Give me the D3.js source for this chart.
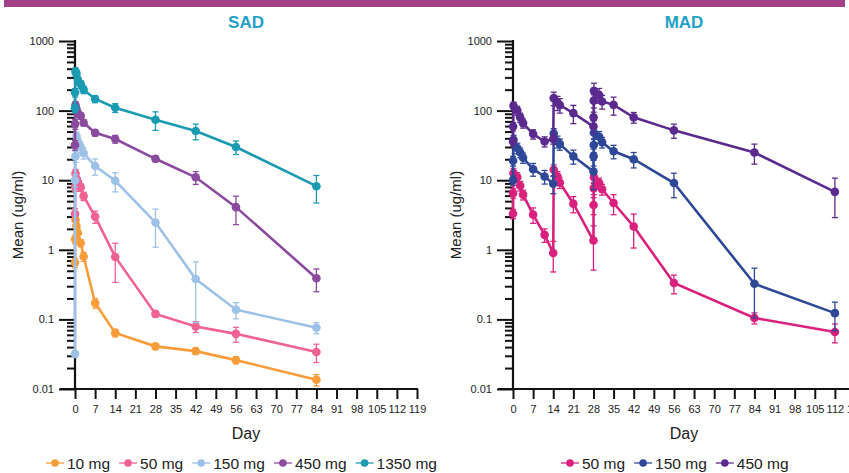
<!DOCTYPE html>
<html>
<head>
<meta charset="utf-8">
<script src="https://cdn.jsdelivr.net/npm/d3@7"></script>
<style>
  body { margin: 0; background: #fff; }
  text { font-family: "Liberation Sans", Arial, sans-serif; fill: #222; }
</style>
</head>
<body>
<div id="chart"></div>
<script>
// ---- data ----
const yTicks = [0.01, 0.1, 1, 10, 100, 1000];
const xTicks = [0, 7, 14, 21, 28, 35, 42, 49, 56, 63, 70, 77, 84, 91, 98, 105, 112, 119];

const sadDays = [0, 0.04, 0.17, 0.5, 1, 2, 3, 7, 14, 28, 42, 56, 84];
const sadNames = ['10 mg', '50 mg', '150 mg', '450 mg', '1350 mg'];
const sad10   = [0.65, 1.42, 2.7, 2.2, 1.74, 1.25, 0.8, 0.172, 0.064, 0.041, 0.035, 0.026, 0.0136];
const sad10sd = [0.1, 0.2, 0.4, 0.3, 0.25, 0.15, 0.12, 0.027, 0.008, 0.004, 0.0035, 0.003, 0.0025];
const sad50   = [3.3, 8.1, 12.5, 10.5, 9.5, 7.9, 5.9, 3.0, 0.79, 0.12, 0.079, 0.062, 0.034];
const sad50sd = [0.6, 1.2, 1.8, 1.5, 1.3, 1.0, 0.8, 0.6, 0.45, 0.012, 0.014, 0.015, 0.01];
const sad150   = [0.032, 10, 22, 43, 36, 30, 24.5, 16, 9.8, 2.47, 0.38, 0.138, 0.076];
const sad150sd = [0.003, 2, 4, 6, 5, 5, 4.4, 4.2, 3, 1.38, 0.29, 0.036, 0.014];
const sad450   = [32, 64, 120, 105, 92, 84, 67, 48, 39, 20.3, 11, 4.1, 0.39];
const sad450sd = [5, 10, 15, 12, 10, 8, 7, 5, 5, 2, 2.3, 1.8, 0.14];
const sad1350   = [108, 182, 363, 344, 277, 239, 200, 147, 110, 74, 51, 30, 8.2];
const sad1350sd = [15, 25, 50, 40, 35, 30, 25, 17, 16, 22, 13, 6.6, 3.5];

const madDays = [0, 0.04, 0.17, 1.5, 2.5, 3.5, 7, 11, 14, 14.17, 15.5, 16.3, 21,
                 28, 28.04, 28.1, 28.17, 30, 31, 35, 42, 56, 84, 112];
const madNames = ['50 mg', '150 mg', '450 mg'];
const mad50   = [3.3, 6.5, 12.6, 11, 8.3, 6.2, 3.2, 1.64, 0.9, 14.1, 11.3, 9.2, 4.6,
                 1.36, 4.4, 7.7, 11, 9.1, 7.4, 4.7, 2.16, 0.333, 0.105, 0.066];
const mad50sd = [0.5, 1, 2, 1.8, 1.3, 1, 0.8, 0.36, 0.42, 2.5, 2, 1.6, 1.2,
                 0.85, 1.2, 1.5, 2, 1.6, 1.3, 1.5, 1.1, 0.1, 0.019, 0.02];
const mad150   = [10, 19, 38, 29, 25, 21, 14.4, 11.3, 8.9, 47, 36, 33, 22,
                  13.3, 22, 32, 48, 42, 35, 26, 20, 9.1, 0.325, 0.123];
const mad150sd = [1.5, 3, 6, 5, 4, 3.5, 3, 2.5, 2.5, 8, 7, 6, 5,
                  6, 6, 7, 9, 8, 6, 5.7, 5, 3.5, 0.22, 0.054];
const mad450   = [36, 59, 117, 100, 80, 66, 46, 36, 39, 151, 130, 120, 92,
                  59, 80, 139, 192, 168, 135, 121, 80, 52, 25, 6.8];
const mad450sd = [5, 8, 15, 15, 12, 10, 7, 6, 6, 33, 30, 28, 27,
                  12, 15, 30, 55, 40, 30, 35, 14, 12, 8, 3.9];

const sadColors = ['#f89c3a', '#ef6291', '#9dc1e7', '#8a4a9e', '#1b9bb1'];
const madColors = ['#d9207d', '#2f4798', '#5b2a8e'];

// ---- layout ----
const W = 849, H = 473;
const svg = d3.select('#chart').append('svg')
    .attr('width', W)
    .attr('height', H);

svg.append('rect')
   .attr('x', 4).attr('y', 0)
   .attr('width', 841).attr('height', 7)
   .attr('fill', '#a54187');

const y = d3.scaleLog().domain([0.01, 1000]).range([389, 41]);

function drawPanel(opt) {
    const x = d3.scaleLinear().domain([0, 119]).range([opt.x0, opt.x0 + 342]);
    const g = svg.append('g');

    g.append('text')
     .attr('x', opt.titleX).attr('y', 28)
     .attr('text-anchor', 'middle')
     .style('font-size', '17px').style('font-weight', 'bold')
     .style('fill', '#1fa0c7')
     .text(opt.title);

    // minor y ticks
    const minors = [];
    yTicks.slice(0, -1).forEach(d => { for (let k = 2; k <= 9; k++) minors.push(d * k); });
    g.append('g')
     .attr('transform', `translate(${opt.x0},0)`)
     .call(d3.axisLeft(y).tickValues(minors).tickSize(8).tickFormat(''))
     .call(a => a.select('.domain').remove())
     .selectAll('line').attr('stroke', '#111').attr('stroke-width', 2);

    const ya = g.append('g')
     .attr('transform', `translate(${opt.x0},0)`)
     .call(d3.axisLeft(y).tickValues(yTicks).tickSize(16).tickPadding(5).tickFormat(d => String(d)));
    ya.select('.domain').remove();
    ya.selectAll('line').attr('stroke', '#111').attr('stroke-width', 2);
    ya.selectAll('text').style('font-size', '11px').style('font-family', '"Liberation Sans", Arial, sans-serif');

    g.append('line')
     .attr('x1', opt.x0).attr('x2', opt.x0)
     .attr('y1', y(1000) - 1).attr('y2', y(0.01) + 1)
     .attr('stroke', '#111').attr('stroke-width', 2.2);

    const xa = g.append('g')
     .attr('transform', `translate(0,${y(0.01)})`)
     .call(d3.axisBottom(x).tickValues(xTicks).tickSize(10).tickPadding(6));
    xa.select('.domain').remove();
    xa.selectAll('line').attr('stroke', '#111').attr('stroke-width', 2);
    xa.selectAll('text').style('font-size', '11px').style('font-family', '"Liberation Sans", Arial, sans-serif');

    g.append('line')
     .attr('x1', x(0) - 15).attr('x2', x(119) + 1)
     .attr('y1', y(0.01)).attr('y2', y(0.01))
     .attr('stroke', '#111').attr('stroke-width', 2.2);

    g.append('text')
     .attr('x', x(0) + 171).attr('y', 439)
     .attr('text-anchor', 'middle')
     .style('font-size', '16px')
     .text('Day');

    g.append('text')
     .attr('transform', `translate(${opt.x0 - 52},215) rotate(-90)`)
     .attr('text-anchor', 'middle')
     .style('font-size', '15px')
     .text('Mean (ug/ml)');

    const line = d3.line()
        .x((d, i) => x(opt.days[i]))
        .y(d => y(d));

    opt.series.forEach(s => {
        const sg = g.append('g');
        sg.append('path')
          .attr('d', line(s.mean))
          .attr('fill', 'none')
          .attr('stroke', s.color)
          .attr('stroke-width', 2.6);

        const eb = sg.selectAll('.eb').data(s.mean).enter().append('g');
        eb.each(function (m, i) {
            const sd = s.sd[i];
            const cx = x(opt.days[i]);
            const lo = m - sd > 0.01 ? m - sd : 0.01;
            const e = d3.select(this);
            e.append('line')
             .attr('x1', cx).attr('x2', cx)
             .attr('y1', y(m + sd)).attr('y2', y(lo))
             .attr('stroke', s.color).attr('stroke-width', 1.3);
            [m + sd, lo].forEach(v => {
                e.append('line')
                 .attr('x1', cx - 3).attr('x2', cx + 3)
                 .attr('y1', y(v)).attr('y2', y(v))
                 .attr('stroke', s.color).attr('stroke-width', 1.3);
            });
        });

        sg.selectAll('circle').data(s.mean).enter().append('circle')
          .attr('cx', (d, i) => x(opt.days[i]))
          .attr('cy', d => y(d))
          .attr('r', 4.3)
          .attr('fill', s.color);
    });

    // legend
    let lx = opt.legendX;
    opt.series.forEach(s => {
        const lg = g.append('g');
        lg.append('line')
          .attr('x1', lx - 9).attr('x2', lx + 9)
          .attr('y1', 463).attr('y2', 463)
          .attr('stroke', s.color).attr('stroke-width', 1.6).attr('opacity', 0.8);
        lg.append('circle')
          .attr('cx', lx).attr('cy', 463).attr('r', 3.8)
          .attr('fill', s.color);
        const t = lg.append('text')
          .attr('x', lx + 12).attr('y', 468.5)
          .style('font-size', '15.5px')
          .text(s.name);
        lx = lx + 12 + t.node().getComputedTextLength() + 18;
    });
}

drawPanel({
    x0: 75, title: 'SAD', titleX: 246, legendX: 55, days: sadDays,
    series: [
        { name: sadNames[0], color: sadColors[0], mean: sad10,   sd: sad10sd },
        { name: sadNames[1], color: sadColors[1], mean: sad50,   sd: sad50sd },
        { name: sadNames[2], color: sadColors[2], mean: sad150,  sd: sad150sd },
        { name: sadNames[3], color: sadColors[3], mean: sad450,  sd: sad450sd },
        { name: sadNames[4], color: sadColors[4], mean: sad1350, sd: sad1350sd }
    ]
});

drawPanel({
    x0: 513, title: 'MAD', titleX: 684, legendX: 570, days: madDays,
    series: [
        { name: madNames[0], color: madColors[0], mean: mad50,  sd: mad50sd },
        { name: madNames[1], color: madColors[1], mean: mad150, sd: mad150sd },
        { name: madNames[2], color: madColors[2], mean: mad450, sd: mad450sd }
    ]
});
</script>
</body>
</html>
